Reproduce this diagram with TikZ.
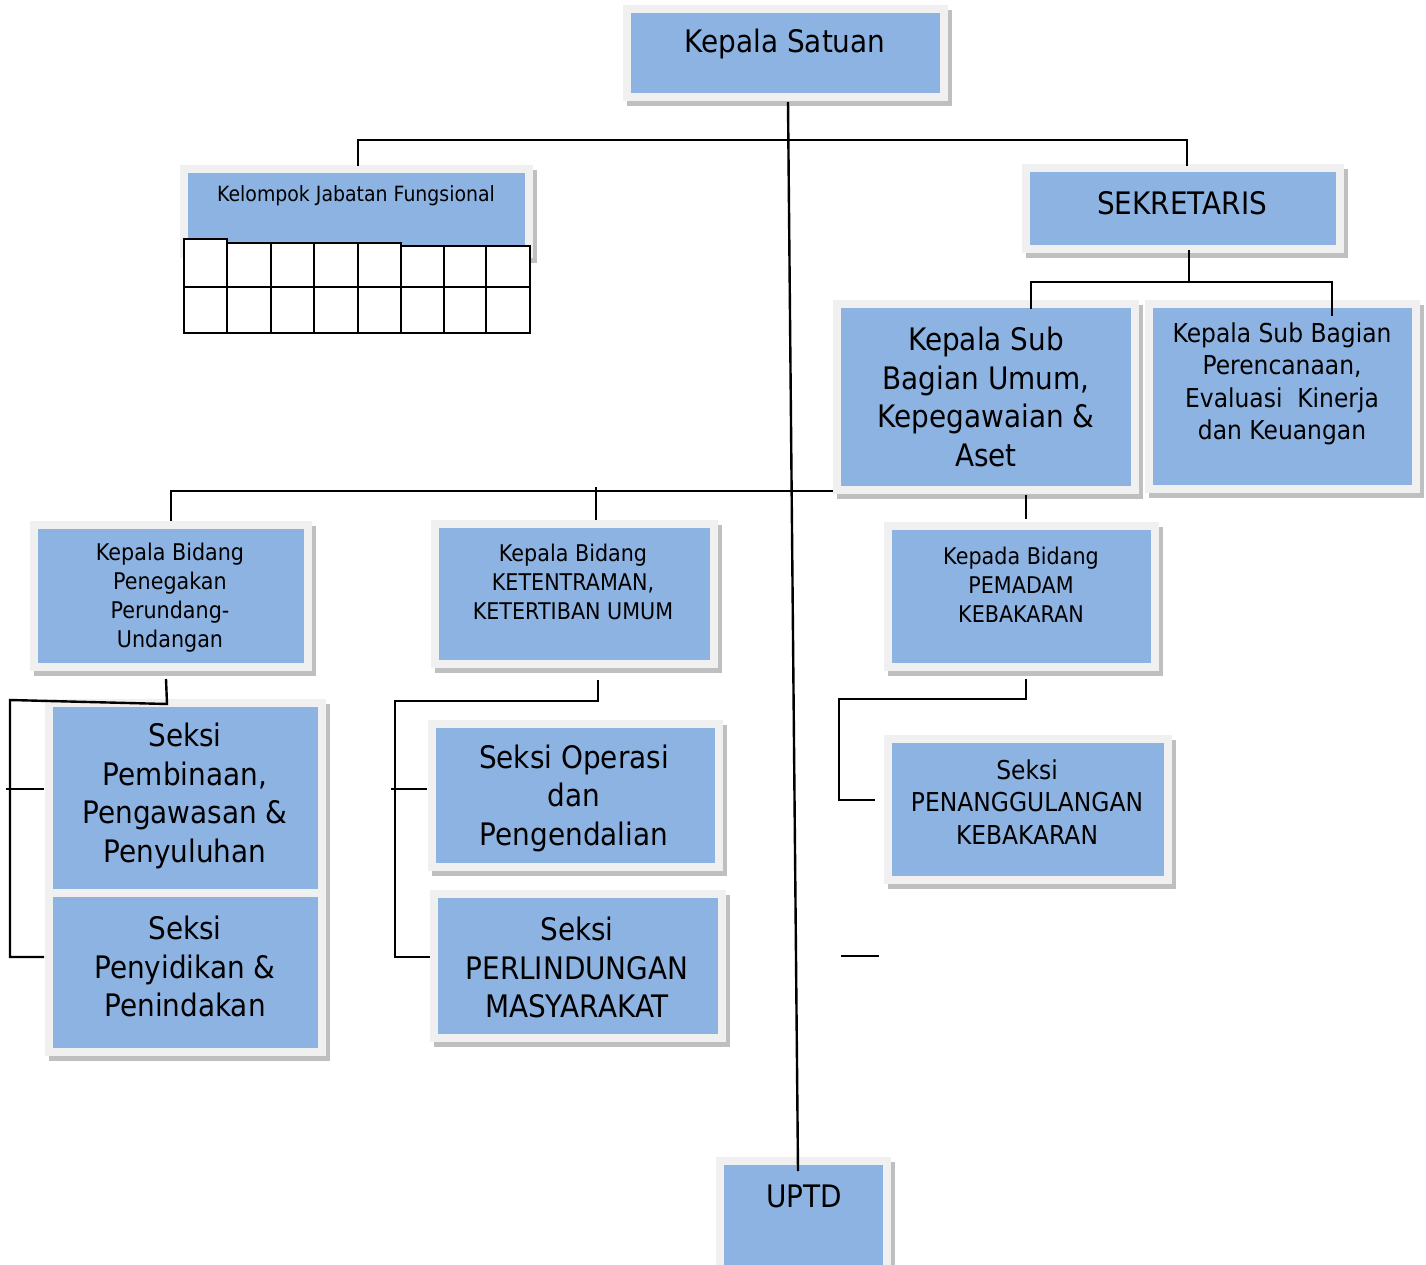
\documentclass[tikz,border=0pt]{standalone}
\usepackage{fontspec}
\setmainfont{DejaVu Sans}[FakeStretch=0.9]
\usetikzlibrary{calc}

\definecolor{boxblue}{HTML}{8DB3E2}
\definecolor{framegray}{HTML}{F0F0F0}
\definecolor{shadowgray}{HTML}{BFBFBF}

\newcommand\fsbig{\fontsize{31}{38.5}\selectfont}
\newcommand\fsmid{\fontsize{26}{32.5}\selectfont}
\newcommand\fssmall{\fontsize{23}{29}\selectfont}
\newcommand\fstiny{\fontsize{21}{26}\selectfont}

\tikzset{
  unit/.style={rectangle, fill=boxblue, draw=framegray, line width=8pt, inner sep=0pt,
    preaction={fill=shadowgray, draw=shadowgray, line width=8pt,
      transform canvas={xshift=4pt,yshift=-5pt}}},
  lbl/.style={align=center, inner sep=0pt},
  link/.style={draw=black, line width=2.4pt},
  cell/.style={draw=black, fill=white, line width=2.2pt}
}

\begin{document}
\begin{tikzpicture}[x=1pt,y=-1pt]
  \fill[white] (0,0) rectangle (1426,1265);
  \useasboundingbox (0,0) rectangle (1426,1265);

  % boxes
  \node[unit, minimum width=317pt, minimum height=88pt] (ks) at (785.5,53) {};
  \node[lbl, font=\fsbig] (ks-t) at (785,44) {Kepala Satuan};

  \node[unit, minimum width=345pt, minimum height=85pt] (kjf) at (356.5,211.5) {};
  \node[lbl, font=\fstiny] (kjf-t) at (356,196) {Kelompok Jabatan Fungsional};
  \foreach \xa/\xb/\yt in {184/227/239, 227/271/243, 271/314/243, 314/358/243,
                           358/401/243, 401/444/246, 444/486/246, 486/530/246} {
    \draw[cell] (\xa,\yt) rectangle (\xb,287);
    \draw[cell] (\xa,287) rectangle (\xb,333);
  }

  \node[unit, minimum width=314pt, minimum height=81pt] (sek) at (1183,208.5) {};
  \node[lbl, font=\fsbig] (sek-t) at (1182,203) {SEKRETARIS};

  \node[unit, minimum width=298pt, minimum height=186pt] (ksbu) at (986,397) {};
  \node[lbl, font=\fsbig] (ksbu-t) at (986,397)
    {Kepala Sub\\Bagian Umum,\\Kepegawaian \&\\Aset};

  \node[unit, minimum width=267pt, minimum height=185pt] (ksbp) at (1282.5,396.5) {};
  \node[lbl, font=\fsmid] (ksbp-t) at (1282,384)
    {Kepala Sub Bagian\\Perencanaan,\\Evaluasi\ \ Kinerja\\dan Keuangan};

  \node[unit, minimum width=274pt, minimum height=142pt] (kbp) at (171,596) {};
  \node[lbl, font=\fssmall] (kbp-t) at (170,598)
    {Kepala Bidang\\Penegakan\\Perundang-\\Undangan};

  \node[unit, minimum width=279pt, minimum height=140pt] (kbk) at (574.5,594) {};
  \node[lbl, font=\fssmall] (kbk-t) at (573,582)
    {Kepala Bidang\\KETENTRAMAN,\\KETERTIBAN UMUM};

  \node[unit, minimum width=267pt, minimum height=141pt] (kbpk) at (1021.5,596.5) {};
  \node[lbl, font=\fssmall] (kbpk-t) at (1021,585)
    {Kepada Bidang\\PEMADAM\\KEBAKARAN};

  \node[unit, minimum width=273pt, minimum height=190pt] (spp) at (185.5,798) {};
  \node[lbl, font=\fsbig] (spp-t) at (185,796)
    {Seksi\\Pembinaan,\\Pengawasan \&\\Penyuluhan};

  \node[unit, minimum width=273pt, minimum height=159pt] (spn) at (185.5,972.5) {};
  \node[lbl, font=\fsbig] (spn-t) at (185,966.5)
    {Seksi\\Penyidikan \&\\Penindakan};

  \node[unit, minimum width=287pt, minimum height=143pt] (sop) at (575.5,795.5) {};
  \node[lbl, font=\fsbig] (sop-t) at (574,798)
    {Seksi Operasi\\dan\\Pengendalian};

  \node[unit, minimum width=288pt, minimum height=144pt] (spm) at (578,966) {};
  \node[lbl, font=\fsbig] (spm-t) at (577,967.5)
    {Seksi\\PERLINDUNGAN\\MASYARAKAT};

  \node[unit, minimum width=280pt, minimum height=141pt] (spk) at (1028,809.5) {};
  \node[lbl, font=\fsmid] (spk-t) at (1027,802)
    {Seksi\\PENANGGULANGAN\\KEBAKARAN};

  \node[unit, minimum width=167pt, minimum height=118pt] (uptd) at (803.5,1220) {};
  \node[lbl, font=\fsbig] (uptd-t) at (804,1196) {UPTD};

  % lines
  \coordinate (topbus) at (788,140);
  \coordinate (sekbus) at (1189,282);
  \coordinate (bidbus) at (833,491);
  \coordinate (lbus) at (10,700);
  \coordinate (mbus) at (395,701);
  \coordinate (rbus) at (839,699);
  \coordinate (stub) at (841,956);

  \draw[link] ($(ks.south)+(2.5,1)$) -- ($(uptd.north)+(-5.5,14)$);
  \draw[link] ($(kjf.north)+(1.5,1)$) |- (topbus) -| ($(sek.north)+(4,2)$);
  \draw[link] ($(sek.south)+(6,-3)$) -- (sekbus);
  \draw[link] ($(ksbu.north)+(45,9)$) |- (sekbus) -| ($(ksbp.north)+(49.5,16)$);
  \draw[link] (kbp.north) |- (bidbus);
  \draw[link] ($(kbk.north)+(21.5,0)$) -- ($(kbk.north)+(21.5,-33)$);
  \draw[link] ($(ksbu.south)+(40,1)$) -- ($(kbpk.north)+(4.5,-3)$);

  \draw[link] ($(kbp.south)+(-5,8)$) -- ($(kbp.south)+(-4,33)$) -- (lbus)
    |- ($(spn.west)+(-1,-15.5)$);
  \draw[link] ($(spp.west)+(-39,-9)$) -- ($(spp.west)+(-1,-9)$);

  \draw[link] ($(kbk.south)+(23.5,12)$) |- (mbus) |- ($(spm.west)+(0,-9)$);
  \draw[link] ($(sop.west)+(-37,-6.5)$) -- ($(sop.west)+(-1,-6.5)$);

  \draw[link] ($(kbpk.south)+(4.5,8)$) |- (rbus) |- ($(spk.west)+(-9,-9.5)$);
  \draw[link] (stub) -- ++(38,0);
\end{tikzpicture}
\end{document}
